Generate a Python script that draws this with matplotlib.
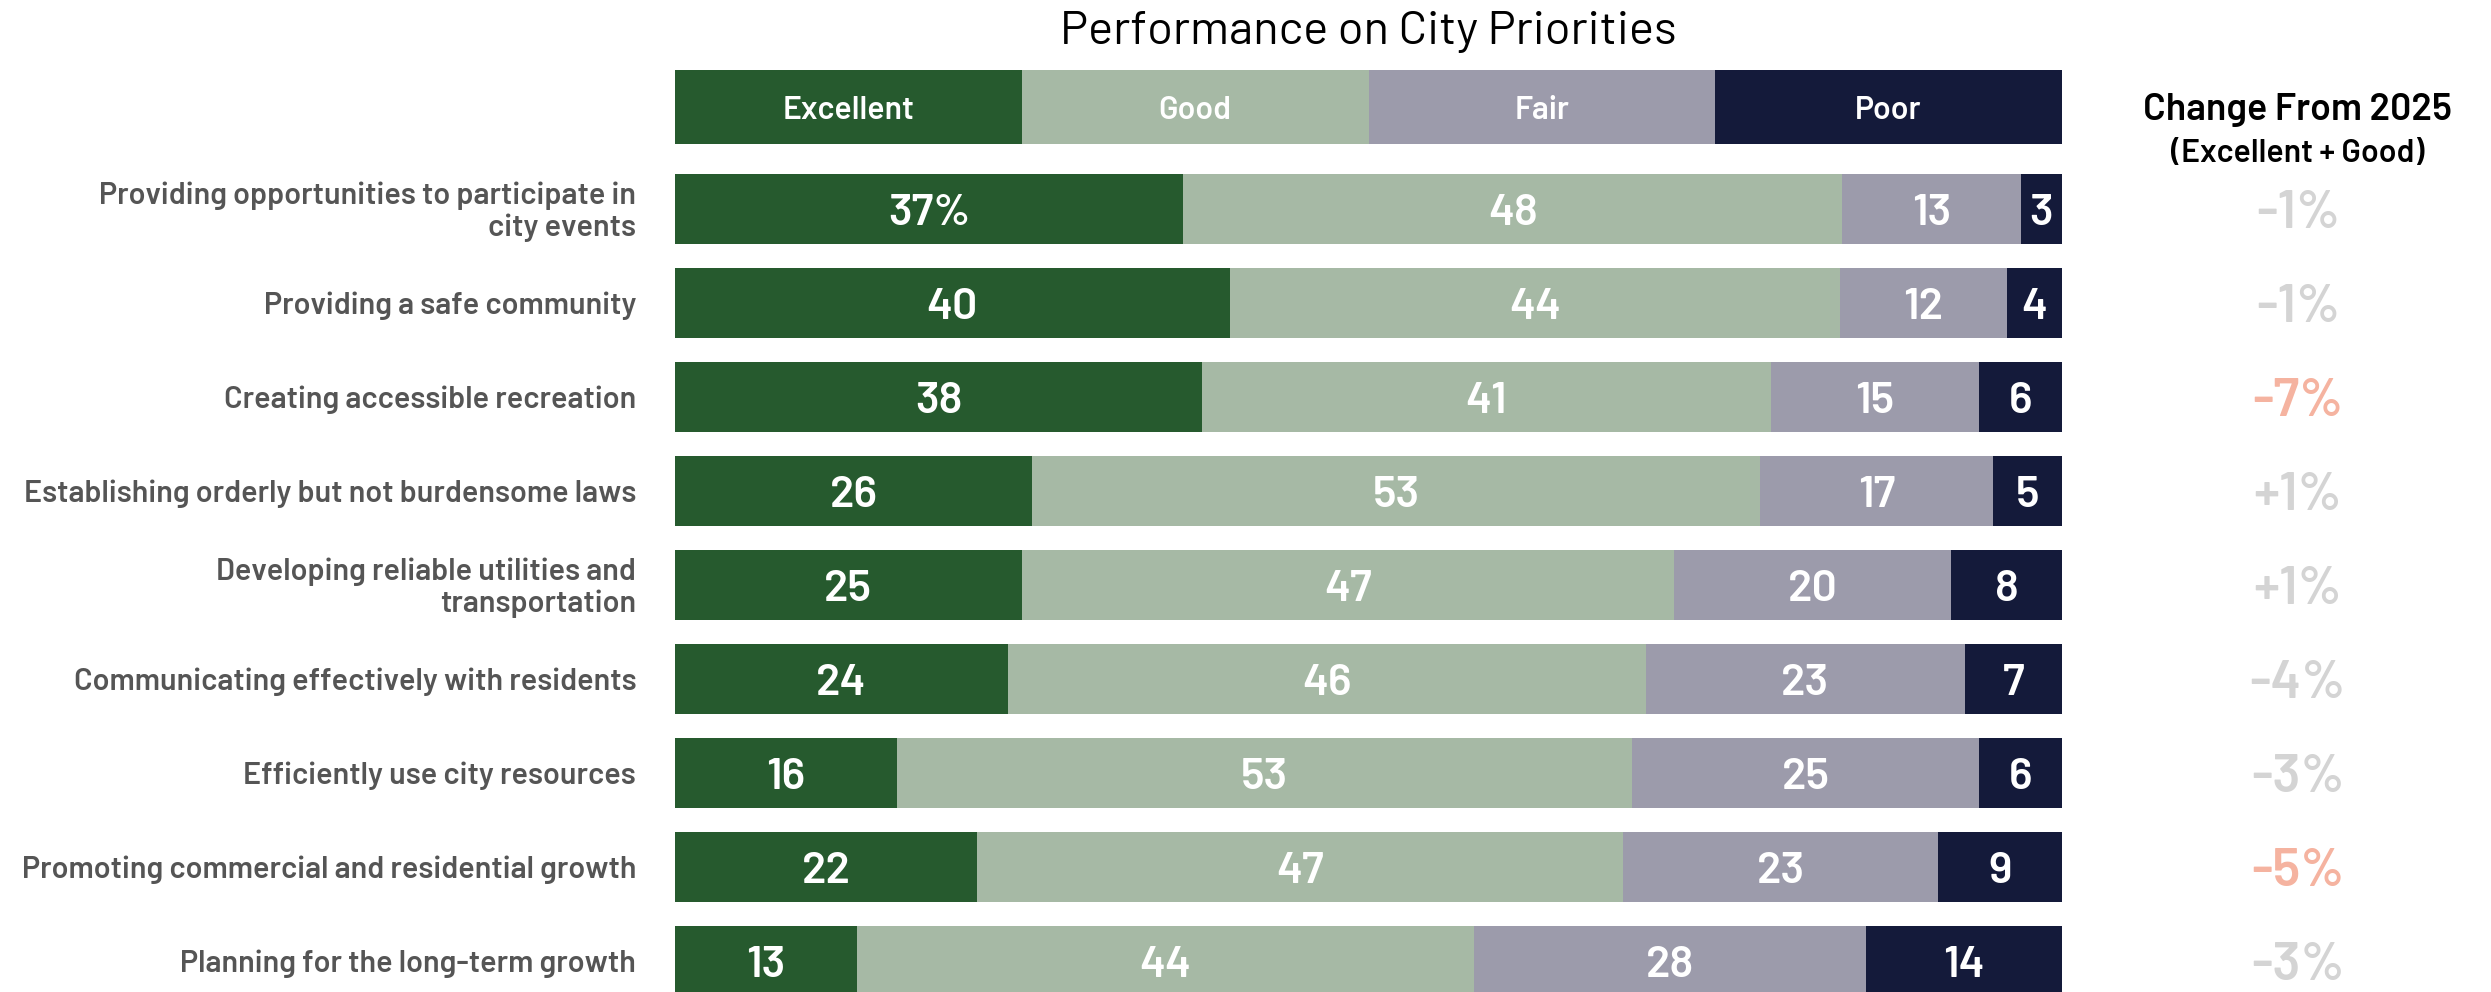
import matplotlib
matplotlib.use('Agg')
import numpy as np
import matplotlib.pyplot as plt
import matplotlib.transforms as mtransforms

plt.rcParams['font.family'] = ['Barlow', 'DejaVu Sans']

categories = ['Providing opportunities to participate in\ncity events',
              'Providing a safe community',
              'Creating accessible recreation',
              'Establishing orderly but not burdensome laws',
              'Developing reliable utilities and\ntransportation',
              'Communicating effectively with residents',
              'Efficiently use city resources',
              'Promoting commercial and residential growth',
              'Planning for the long-term growth']
ratings = ['Excellent', 'Good', 'Fair', 'Poor']
excellent = [37, 40, 38, 26, 25, 24, 16, 22, 13]
good = [48, 44, 41, 53, 47, 46, 53, 47, 44]
fair = [13, 12, 15, 17, 20, 23, 25, 23, 28]
poor = [3, 4, 6, 5, 8, 7, 6, 9, 14]
change = [-1, -1, -7, 1, 1, -4, -3, -5, -3]

colors = ['#265a2e', '#a6b9a5', '#9c9bab', '#141a3a']

data = np.array([excellent, good, fair, poor], dtype=float)
shares = data / data.sum(axis=0) * 100

fig = plt.figure(figsize=(24.91, 9.92), dpi=100)
ax = fig.add_axes([675 / 2491, 0, 1387 / 2491, 1])
ax.set_xlim(0, 100)
ax.set_ylim(8.33, -2.223)
ax.axis('off')

y = np.arange(len(categories))
left = np.zeros(len(categories))
for k in range(4):
    ax.barh(y, shares[k], left=left, height=0.745, color=colors[k], linewidth=0)
    for i in range(len(categories)):
        lab = '%d%%' % data[k, i] if (k == 0 and i == 0) else '%d' % data[k, i]
        ax.text(left[i] + shares[k, i] / 2, y[i] + 0.05, lab, ha='center', va='center',
                color='white', fontsize=32, fontweight='semibold')
    left += shares[k]

# header boxes
hy = -1.085
hl = 0
for k, r in enumerate(ratings):
    ax.barh(hy, 25, left=hl, height=0.78, color=colors[k], linewidth=0)
    ax.text(hl + 12.5, hy + 0.04, r, ha='center', va='center', color='white',
            fontsize=23, fontweight='semibold')
    hl += 25

trans = mtransforms.blended_transform_factory(ax.transAxes, ax.transData)
for i, c in enumerate(categories):
    ax.text(-0.028, y[i] + 0.03, c, transform=trans, ha='right', va='center', ma='right',
            color='#555555', fontsize=22, fontweight='semibold', linespacing=1.15)

for i, v in enumerate(change):
    col = '#f5b3a0' if v <= -5 else '#d4d4d4'
    ax.text(1.170, y[i] + 0.05, '%+d%%' % v, transform=trans, ha='center', va='center',
            color=col, fontsize=38, fontweight='semibold')

ax.text(1.170, -1.05, 'Change From 2025', transform=trans, ha='center', va='center',
        color='black', fontsize=27, fontweight='semibold')
ax.text(1.170, -0.59, '(Excellent + Good)', transform=trans, ha='center', va='center',
        color='black', fontsize=23, fontweight='semibold')

ax.text(50, -1.88, 'Performance on City Priorities', ha='center', va='center',
        color='black', fontsize=34)

fig.savefig('out.png', dpi=100)
